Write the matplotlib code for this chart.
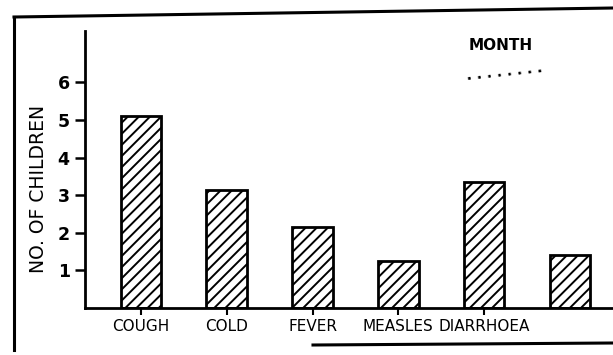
import matplotlib
matplotlib.use('Agg')
import matplotlib.pyplot as plt
from matplotlib.lines import Line2D

# ailments recorded for the month
diseases = ['COUGH', 'COLD', 'FEVER', 'MEASLES', 'DIARRHOEA', '']
children = [5.1, 3.15, 2.15, 1.25, 3.35, 1.4]
y_ticks = [1, 2, 3, 4, 5, 6]

plt.rcParams['font.family'] = ['DejaVu Sans']
plt.rcParams['hatch.linewidth'] = 1.4

W, H = 613, 355
fig = plt.figure(figsize=(W / 100, H / 100), dpi=100)
ax = fig.add_axes([85 / W, 1 - 308 / H, (W - 85) / W, (308 - 31) / H])

pos = list(range(len(children)))
ax.bar(pos, children, width=0.47, facecolor='white', edgecolor='black',
       linewidth=2, hatch='///')

ax.set_xlim(-0.65, 5.5)
ax.set_ylim(0, 7.37)

for side in ['top', 'right']:
    ax.spines[side].set_visible(False)
ax.spines['left'].set_linewidth(2)
ax.spines['bottom'].set_linewidth(2)

ax.set_yticks(y_ticks)
ax.set_yticklabels([str(v) for v in y_ticks], fontsize=12.5, fontweight='bold')
ax.tick_params(axis='y', direction='out', length=7, width=1.8, pad=4)

labelled = [i for i, d in enumerate(diseases) if d]
ax.set_xticks(labelled)
ax.set_xticklabels([diseases[i] for i in labelled], fontsize=11)
ax.tick_params(axis='x', direction='out', length=5, width=1.5, pad=3)

fig.text(39 / W, 1 - 189 / H, 'NO. OF CHILDREN', rotation=90, fontsize=13.5,
         ha='center', va='center')
fig.text(469 / W, 1 - 45 / H, 'MONTH', fontsize=11, fontweight='bold',
         ha='left', va='center')
fig.text(466 / W, 1 - 72 / H, '. . . . . . . .', fontsize=10, fontweight='bold',
         ha='left', va='center', rotation=6)

# hand drawn page frame
frame = [((14, 17), (613, 8)), ((14, 17), (14, 350)), ((313, 345), (613, 343))]
for (x0, y0), (x1, y1) in frame:
    fig.add_artist(Line2D([x0 / W, x1 / W], [1 - y0 / H, 1 - y1 / H],
                          transform=fig.transFigure, color='black', lw=2.2))

fig.savefig('out.png', dpi=100)
